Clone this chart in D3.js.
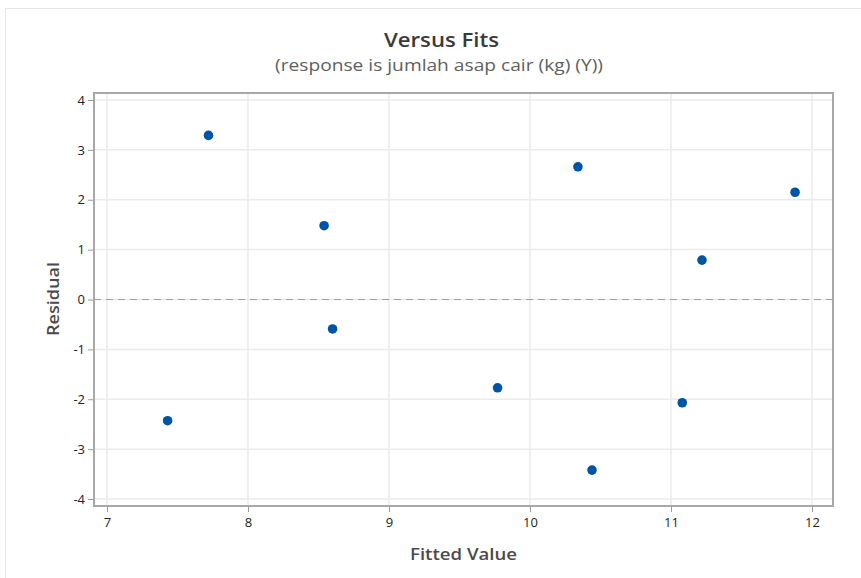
<!DOCTYPE html>
<html><head><meta charset="utf-8">
<script src="https://d3js.org/d3.v7.min.js"></script>
<style>body{margin:0;background:#fff;} svg{display:block;font-family:"Open Sans","Noto Sans",sans-serif;}</style>
</head><body>
<svg id="c" width="861" height="578"></svg>
<script>
const fitted = [7.43, 7.72, 8.54, 8.60, 9.77, 10.34, 10.44, 11.08, 11.22, 11.88];
const residual = [-2.43, 3.29, 1.48, -0.59, -1.77, 2.66, -3.42, -2.07, 0.79, 2.15];
const xTicks = [7, 8, 9, 10, 11, 12];
const yTicks = [4, 3, 2, 1, 0, -1, -2, -3, -4];

const svg = d3.select("#c");
const L = 94, R = 833, T = 93, B = 506;
const x = d3.scaleLinear().domain([6.908, 12.149]).range([L, R]);
const y = d3.scaleLinear().domain([-4.14, 4.14]).range([B, T]);

svg.append("rect").attr("x", 5.5).attr("y", 8.5).attr("width", 870).attr("height", 580)
  .attr("fill", "none").attr("stroke", "#e6e6e6");

const g = svg.append("g");
g.selectAll(".gx").data(xTicks).enter().append("line")
  .attr("x1", d => x(d)).attr("x2", d => x(d)).attr("y1", T).attr("y2", B)
  .attr("stroke", "#ebebeb").attr("stroke-width", 1.5);
g.selectAll(".gy").data(yTicks).enter().append("line")
  .attr("y1", d => y(d)).attr("y2", d => y(d)).attr("x1", L).attr("x2", R)
  .attr("stroke", "#ebebeb").attr("stroke-width", 1.5);

g.append("line").attr("x1", L).attr("x2", R).attr("y1", y(0)).attr("y2", y(0))
  .attr("stroke", "#a0a0a0").attr("stroke-width", 1.2).attr("stroke-dasharray", "7,5");

const fmt = d => String(d);
const xAxis = d3.axisBottom(x).tickValues(xTicks).tickSize(5).tickPadding(6).tickFormat(fmt);
const yAxis = d3.axisLeft(y).tickValues(yTicks).tickSize(5).tickPadding(3).tickFormat(fmt);
const gx = svg.append("g").attr("transform", `translate(0,${B + 1})`).call(xAxis);
const gy = svg.append("g").attr("transform", `translate(${L - 1},0)`).call(yAxis);
[gx, gy].forEach(a => {
  a.select(".domain").remove();
  a.selectAll(".tick line").attr("stroke", "#9a9a9a");
  a.selectAll(".tick text").attr("fill", "#222").style("font-size", "13px").style("font-family", "'Open Sans','Noto Sans',sans-serif");
});

svg.append("rect").attr("x", L).attr("y", T).attr("width", R - L).attr("height", B - T)
  .attr("fill", "none").attr("stroke", "#a8a8a8").attr("stroke-width", 2);

svg.selectAll(".pt").data(fitted).enter().append("circle")
  .attr("cx", d => x(d)).attr("cy", (d, i) => y(residual[i])).attr("r", 4.8)
  .attr("fill", "#0054a6");

svg.append("text").attr("x", 441.5).attr("y", 47).attr("text-anchor", "middle")
  .attr("textLength", 115).attr("lengthAdjust", "spacingAndGlyphs")
  .style("font-size", "20px").style("font-weight", "600").attr("fill", "#3a3a3a").text("Versus Fits");
svg.append("text").attr("x", 439).attr("y", 71).attr("text-anchor", "middle")
  .attr("textLength", 328).attr("lengthAdjust", "spacingAndGlyphs")
  .style("font-size", "17px").attr("fill", "#606060").text("(response is jumlah asap cair (kg) (Y))");
svg.append("text").attr("x", 463.5).attr("y", 560).attr("text-anchor", "middle")
  .attr("textLength", 107).attr("lengthAdjust", "spacingAndGlyphs")
  .style("font-size", "17px").style("font-weight", "600").attr("fill", "#4a4a4a").text("Fitted Value");
svg.append("text").attr("transform", "translate(59,299) rotate(-90)").attr("text-anchor", "middle")
  .attr("textLength", 74).attr("lengthAdjust", "spacingAndGlyphs")
  .style("font-size", "17px").style("font-weight", "600").attr("fill", "#4a4a4a").text("Residual");
</script>
</body></html>
